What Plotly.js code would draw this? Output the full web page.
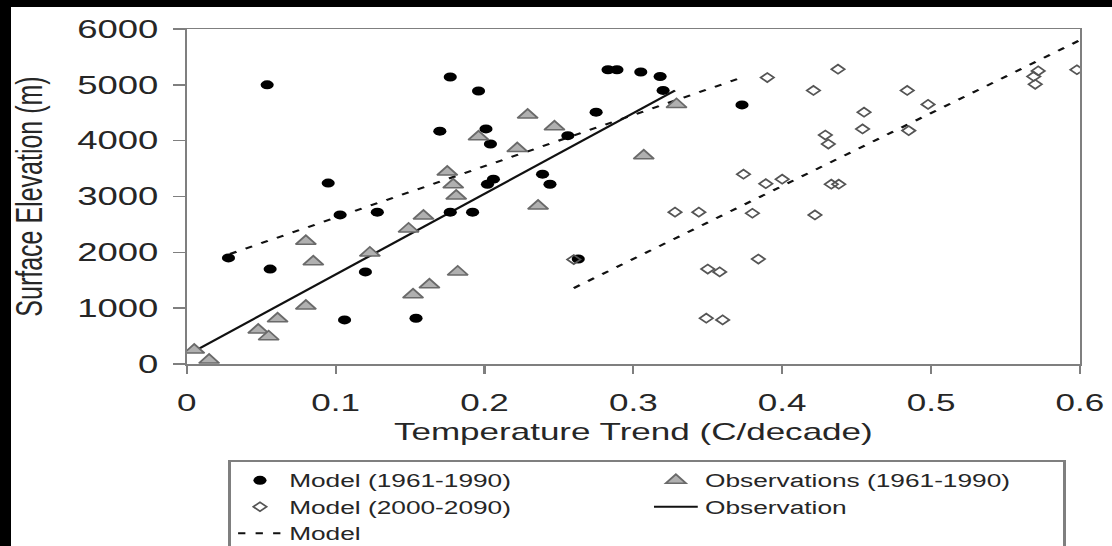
<!DOCTYPE html>
<html><head><meta charset="utf-8">
<script src="https://cdn.plot.ly/plotly-3.0.1.min.js"></script>
<style>
html,body{margin:0;padding:0;background:#fff;width:1112px;height:546px;overflow:hidden;position:relative}
#wrap{position:absolute;left:0;top:0;width:762px;height:580px;transform:scaleX(1.4593);transform-origin:0 0;background:#fff}
#barTop{position:absolute;left:0;top:0;width:1112px;height:7px;background:#000;z-index:5}
#barLeft{position:absolute;left:0;top:0;width:11px;height:546px;background:#000;z-index:5}
</style></head>
<body>
<div id="wrap"><div id="chart" style="width:762px;height:580px"></div></div>
<div id="barTop"></div><div id="barLeft"></div>
<script>
// Model (1961-1990) – filled circles
var modelPastX = [0.028,0.054,0.056,0.095,0.103,0.106,0.120,0.128,0.154,0.170,0.177,0.177,0.192,0.196,0.201,0.204,0.206,0.202,0.239,0.244,0.256,0.263,0.275,0.283,0.289,0.305,0.318,0.320,0.373];
var modelPastY = [1900,5000,1700,3240,2670,790,1650,2720,820,4170,5140,2720,2720,4890,4210,3940,3310,3220,3400,3220,4090,1880,4510,5270,5270,5230,5150,4900,4640];
// Observations (1961-1990) – grey triangles
var obsX = [0.005,0.015,0.048,0.055,0.061,0.080,0.080,0.085,0.123,0.149,0.152,0.159,0.163,0.175,0.179,0.181,0.182,0.196,0.222,0.229,0.236,0.247,0.307,0.329];
var obsY = [250,70,610,490,810,1040,2200,1830,1990,2420,1240,2650,1420,3440,3210,3010,1650,4070,3860,4460,2830,4250,3730,4650];
// Model (2000-2090) – open diamonds
var modelFutX = [0.260,0.328,0.344,0.349,0.350,0.358,0.360,0.374,0.380,0.384,0.389,0.390,0.400,0.421,0.422,0.429,0.431,0.433,0.438,0.4375,0.454,0.455,0.484,0.485,0.498,0.569,0.570,0.572,0.598];
var modelFutY = [1870,2720,2720,820,1700,1650,790,3400,2700,1880,3230,5130,3310,4900,2670,4100,3940,3220,3220,5280,4210,4510,4900,4180,4650,5150,5010,5250,5270];
// Fitted lines
var obsFitX = [0.005,0.328];
var obsFitY = [230,4900];
var modelPastFitX = [0.029,0.375];
var modelPastFitY = [1970,5150];
var modelFutFitX = [0.260,0.600];
var modelFutFitY = [1360,5800];

var xTicks = [0,0.1,0.2,0.3,0.4,0.5,0.6];
var xTickText = ['0','0.1','0.2','0.3','0.4','0.5','0.6'];
var yTicks = [0,1000,2000,3000,4000,5000,6000];
var yTickText = ['0','1000','2000','3000','4000','5000','6000'];

var FONT = 'Liberation Sans, Arial, sans-serif';
var TXT = '#262626';
var AX = '#7f7f7f';

var data = [
  {x:modelPastFitX,y:modelPastFitY,mode:'lines',name:'Model',legendrank:5,
   line:{color:'#111',width:2,dash:'5px,7px'}},
  {x:modelFutFitX,y:modelFutFitY,mode:'lines',name:'Model',showlegend:false,
   line:{color:'#111',width:2,dash:'5px,7px'}},
  {x:obsFitX,y:obsFitY,mode:'lines',name:'Observation',legendrank:4,
   line:{color:'#111',width:2}},
  {x:modelPastX,y:modelPastY,mode:'markers',name:'Model (1961-1990)',legendrank:1,
   marker:{symbol:'circle',size:9,color:'#000'}},
  {x:obsX,y:obsY,mode:'markers',name:'Observations (1961-1990)',legendrank:2,
   marker:{symbol:'triangle-up',size:12,color:'#b0b0b0',line:{color:'#6a6a6a',width:1.5}}},
  {x:modelFutX,y:modelFutY,mode:'markers',name:'Model (2000-2090)',legendrank:3,
   marker:{symbol:'diamond-open',size:7,color:'#555',line:{color:'#555',width:1.5}}}
];

var layout = {
  width:762,height:580,
  margin:{l:128,r:22,t:29,b:216},
  paper_bgcolor:'#fff',plot_bgcolor:'#fff',
  font:{family:FONT,color:TXT,size:24},
  showlegend:true,
  xaxis:{range:[0,0.6],tickvals:xTicks,ticktext:xTickText,ticks:'outside',ticklen:8,tickwidth:1.5,tickcolor:AX,
    ticklabelstandoff:9,
    showline:true,linecolor:AX,linewidth:1.5,mirror:true,showgrid:false,zeroline:false,
    tickfont:{size:24,color:TXT,family:FONT},
    title:{text:'Temperature Trend (C/decade)',font:{size:24,color:TXT,family:FONT},standoff:8}},
  yaxis:{range:[0,6000],tickvals:yTicks,ticktext:yTickText,ticks:'outside',ticklen:8,tickwidth:1.5,tickcolor:AX,
    ticklabelstandoff:5,
    showline:true,linecolor:AX,linewidth:1.5,mirror:true,showgrid:false,zeroline:false,
    tickfont:{size:25,color:TXT,family:FONT},
    title:{text:'Surface Elevation (m)',font:{size:25,color:TXT,family:FONT},standoff:16}},
  legend:{orientation:'h',x:0.046,xanchor:'left',y:-0.287,yanchor:'top',
    entrywidth:240,entrywidthmode:'pixels',
    bordercolor:AX,borderwidth:2,bgcolor:'#fff',
    font:{size:18,color:TXT,family:FONT},itemwidth:30}
};

Plotly.newPlot('chart',data,layout,{displayModeBar:false,staticPlot:true});
</script>
</body></html>
